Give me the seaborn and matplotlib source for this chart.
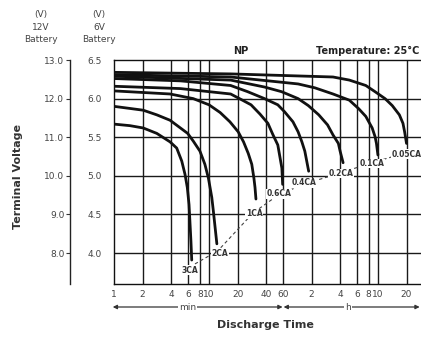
import numpy as np
import pandas as pd
import matplotlib
matplotlib.use("Agg")
import matplotlib.pyplot as plt
import matplotlib.transforms as mtransforms
import seaborn as sns

# ---- data (time in minutes, voltage per 6V battery) ----
curve_names = ["3CA", "2CA", "1CA", "0.6CA", "0.4CA", "0.2CA", "0.1CA", "0.05CA"]
t_3ca = [1, 1.47, 2.03, 2.82, 3.89, 4.57, 5.17, 5.59, 5.91, 6.16, 6.29, 6.45, 6.58]
v_3ca = [5.67, 5.65, 5.62, 5.55, 5.44, 5.36, 5.19, 5.02, 4.85, 4.63, 4.42, 4.16, 3.91]
t_2ca = [1, 2.03, 2.82, 3.89, 5.96, 6.83, 8.03, 9.05, 9.86, 10.7, 11.1, 12.1]
v_2ca = [5.90, 5.85, 5.79, 5.72, 5.55, 5.45, 5.32, 5.15, 4.97, 4.72, 4.55, 4.12]
t_1ca = [1, 3.89, 6.83, 10, 13.1, 16.6, 20.3, 23.1, 25.9, 28.2, 29.7, 30.5, 31.2]
v_1ca = [6.10, 6.06, 6.00, 5.92, 5.82, 5.70, 5.57, 5.44, 5.29, 5.15, 4.97, 4.85, 4.70]
t_06ca = [1, 5, 16.9, 21.7, 27.7, 34.4, 41.7, 46.8, 53, 58.5, 59.6]
v_06ca = [6.16, 6.13, 6.06, 5.99, 5.92, 5.80, 5.68, 5.54, 5.40, 5.10, 4.89]
t_04ca = [1, 5, 16.9, 25.5, 38.4, 53, 62.4, 76.5, 86.7, 95, 102, 112]
v_04ca = [6.26, 6.23, 6.17, 6.09, 6.00, 5.92, 5.83, 5.70, 5.57, 5.44, 5.32, 5.06]
t_02ca = [1, 16.9, 38.4, 58, 86.7, 111, 143, 177, 202, 230, 240, 258]
v_02ca = [6.29, 6.24, 6.15, 6.09, 6.00, 5.91, 5.79, 5.66, 5.53, 5.42, 5.32, 5.17]
t_01ca = [1, 16.9, 86.7, 130, 202, 300, 376, 447, 522, 559, 579, 600]
v_01ca = [6.31, 6.28, 6.19, 6.14, 6.06, 5.98, 5.87, 5.77, 5.62, 5.51, 5.42, 5.27]
t_005ca = [1, 16.9, 202, 300, 447, 559, 713, 849, 1009, 1101, 1146, 1200]
v_005ca = [6.34, 6.32, 6.28, 6.24, 6.17, 6.09, 6.00, 5.91, 5.79, 5.68, 5.57, 5.42]

# cut-off (end voltage) dashed line
cut_t = [7.12, 12.4, 29.1, 53.3, 98.6, 230, 490, 1045]
cut_v = [3.86, 4.03, 4.52, 4.75, 4.89, 5.03, 5.16, 5.28]
# label positions
lab_t = [6.3, 13.0, 29.8, 54.6, 101, 247, 522, 1200]
lab_v = [3.78, 4.00, 4.51, 4.77, 4.91, 5.03, 5.16, 5.28]

xtick_vals = [1, 2, 4, 6, 8, 10, 20, 40, 60, 120, 240, 360, 480, 600, 1200]
xtick_labels = ["1", "2", "4", "6", "8", "10", "20", "40", "60", "2", "4", "6", "8", "10", "20"]
ytick_6v = [4.0, 4.5, 5.0, 5.5, 6.0, 6.5]
ytick_12v = [8.0, 9.0, 10.0, 11.0, 12.0, 13.0]

all_t = [t_3ca, t_2ca, t_1ca, t_06ca, t_04ca, t_02ca, t_01ca, t_005ca]
all_v = [v_3ca, v_2ca, v_1ca, v_06ca, v_04ca, v_02ca, v_01ca, v_005ca]
rows = []
for name, ts, vs in zip(curve_names, all_t, all_v):
    for t, v in zip(ts, vs):
        rows.append((name, t, v))
df = pd.DataFrame(rows, columns=["curve", "t", "v"])

# ---- figure ----
sns.set_theme(style="white")
plt.rcParams["font.family"] = ["Liberation Sans Narrow", "DejaVu Sans"]

W, H = 421, 337
fig = plt.figure(figsize=(W / 100, H / 100), dpi=100)
fig.patch.set_facecolor("white")
ax_l, ax_r, ax_t, ax_b = 114, 421, 60, 284
ax = fig.add_axes([ax_l / W, 1 - ax_b / H, (ax_r - ax_l) / W, (ax_b - ax_t) / H])
ax.set_xscale("log")
ax.set_xlim(1, 10 ** ((ax_r - ax_l) / 95))
ax.set_ylim(3.6, 6.5)

gridc = "#1a1a1a"
for xv in xtick_vals[1:]:
    ax.axvline(xv, color=gridc, lw=1.0, zorder=1)
for yv in ytick_6v[:-1]:
    ax.axhline(yv, color=gridc, lw=1.0, zorder=1)

sns.lineplot(data=df, x="t", y="v", units="curve", estimator=None, sort=False,
             color="#111111", lw=2.0, ax=ax, legend=False, zorder=3)
for ln in ax.lines[-8:]:
    ln.set_solid_joinstyle("round")
    ln.set_solid_capstyle("round")

ax.plot(cut_t, cut_v, ls=(0, (3, 2.5)), color="#444444", lw=0.8, zorder=2)
for name, tx, vy in zip(curve_names, lab_t, lab_v):
    ax.text(tx, vy, name, fontsize=5.5, fontweight="bold", color="#333333",
            ha="center", va="center", zorder=4,
            bbox=dict(boxstyle="square,pad=0.05", fc="white", ec="none"))

ax.set_xticks(xtick_vals)
ax.set_xticklabels(xtick_labels)
ax.xaxis.set_minor_locator(matplotlib.ticker.NullLocator())
ax.set_yticks(ytick_6v)
ax.set_yticklabels([f"{v:.1f}" for v in ytick_6v])
ax.tick_params(axis="both", length=0, labelsize=6.5, labelcolor="#444444")
ax.tick_params(axis="y", pad=9)
ax.tick_params(axis="x", pad=4)
ax.set_xlabel("")
ax.set_ylabel("")
for s in ["left", "top", "bottom"]:
    ax.spines[s].set_visible(True)
    ax.spines[s].set_color("#111111")
    ax.spines[s].set_linewidth(1.0)
ax.spines["right"].set_visible(False)

# 12V secondary axis
sec = ax.secondary_yaxis((70 - ax_l) / (ax_r - ax_l),
                         functions=(lambda v: 2 * v, lambda v: v / 2))
sec.set_yticks(ytick_12v)
sec.set_yticklabels([f"{v:.1f}" for v in ytick_12v])
sec.tick_params(axis="y", direction="out", length=3, width=0.8, color="#333333",
                labelsize=6.5, labelcolor="#444444", pad=1)
sec.spines["left"].set_color("#222222")
sec.spines["left"].set_linewidth(1.0)

# header texts
hc = "#444444"
for x0, lines in [(41, ["(V)", "12V", "Battery"]), (99, ["(V)", "6V", "Battery"])]:
    for y0, s in zip([15, 27, 40], lines):
        fig.text(x0 / W, 1 - y0 / H, s, fontsize=6.5, color=hc, ha="center", va="center")

fig.text(18 / W, 1 - 176 / H, "Terminal Voltage", rotation=90, fontsize=8,
         fontweight="bold", color="#333333", ha="center", va="center")
fig.text(241 / W, 1 - 51 / H, "NP", fontsize=7, fontweight="bold", color="#222222",
         ha="center", va="center")
fig.text(419 / W, 1 - 51 / H, "Temperature: 25°C", fontsize=7, fontweight="bold",
         color="#222222", ha="right", va="center")
fig.text(265 / W, 1 - 325 / H, "Discharge Time", fontsize=8, fontweight="bold",
         color="#333333", ha="center", va="center")

# min / h arrows
trans = mtransforms.blended_transform_factory(ax.transData, fig.transFigure)
ya = 1 - 307 / H
arr = dict(arrowstyle="<|-|>", color="#333333", lw=0.9, mutation_scale=6, shrinkA=0, shrinkB=0)
ax.annotate("", xy=(0.97, ya), xytext=(59.5, ya), xycoords=trans, textcoords=trans,
            arrowprops=arr, annotation_clip=False)
ax.annotate("", xy=(61, ya), xytext=(1650, ya), xycoords=trans, textcoords=trans,
            arrowprops=arr, annotation_clip=False)
ax.text(6.0, ya, "min", transform=trans, fontsize=6.5, color="#444444", ha="center",
        va="center", bbox=dict(boxstyle="square,pad=0.1", fc="white", ec="none"), clip_on=False)
ax.text(290, ya, "h", transform=trans, fontsize=6.5, color="#444444", ha="center",
        va="center", bbox=dict(boxstyle="square,pad=0.1", fc="white", ec="none"), clip_on=False)

fig.savefig("out.png", dpi=100)
